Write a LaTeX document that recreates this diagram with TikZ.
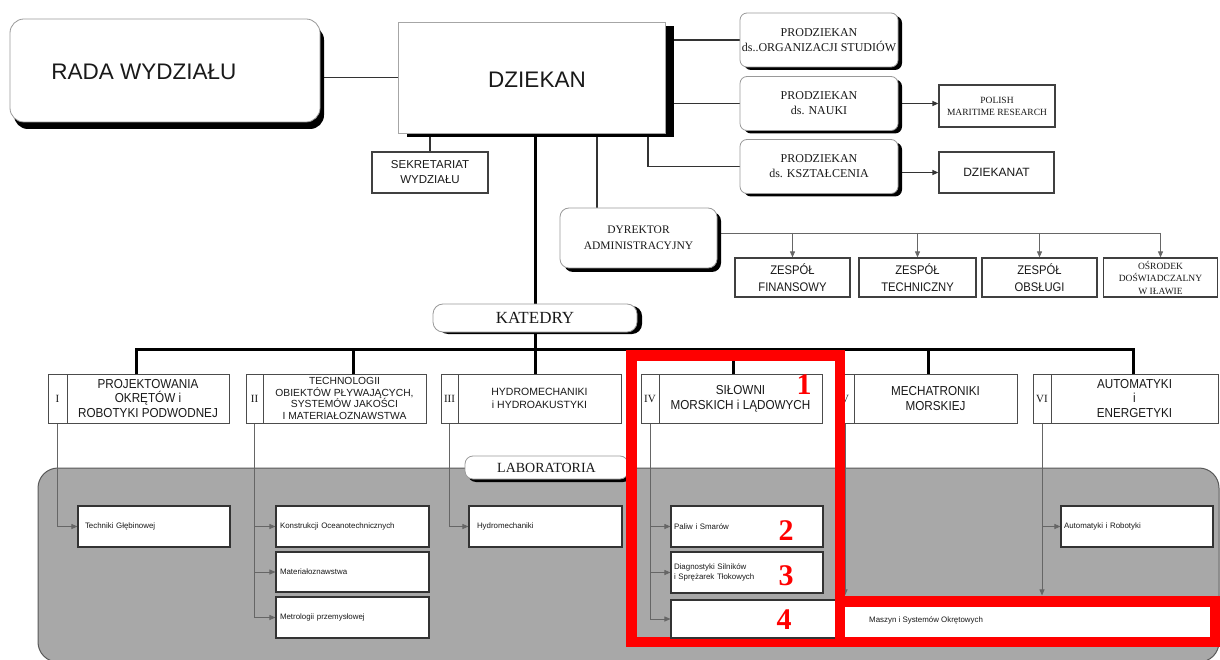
\documentclass[tikz,border=0pt]{standalone}
\usepackage{fontspec}
\setmainfont{Liberation Serif}
\setsansfont{Liberation Sans}
\newfontfamily\nsans[FakeStretch=0.9]{Liberation Sans}
\usetikzlibrary{arrows.meta,shadows}
\pgfdeclarelayer{panel}
\pgfdeclarelayer{bg}
\pgfsetlayers{panel,bg,main}
\definecolor{labgray}{RGB}{168,168,168}
\newcommand\fsz[2]{\fontsize{#1}{#2}\selectfont}
\begin{document}
\begin{tikzpicture}[x=1pt,y=-1pt,
 every node/.style={inner sep=0pt, text=black!90},
 shd/.style 2 args={drop shadow={shadow xshift=#1, shadow yshift=#2, fill=black, opacity=1}},
 rbox/.style={draw=black!40, line width=0.8, fill=white, rounded corners=7, align=center},
 sbox/.style={draw=black!75, line width=1.2, fill=white, align=center},
 kbox/.style={draw=black!70, line width=1, fill=white, align=center, minimum height=49},
 nbox/.style={draw=black!70, line width=1, fill=white, minimum height=49, font=\fsz{11}{13}},
 lbox/.style={draw=black!80, line width=1.1, fill=white, align=left, inner xsep=4pt, text width=144, minimum height=41, font=\sffamily\fsz{7.9}{9.8}},
 thk/.style={line width=3, black, line join=miter},
 ln/.style={line width=1.3, black!80},
 gln/.style={line width=0.9, black!60},
 arr/.style={-{Triangle[length=6pt,width=5pt]}},
 redbox/.style={draw=red, line width=10.5},
 rednum/.style={text=red, font=\bfseries\fsz{30}{30}}
]
\useasboundingbox (0,0) rectangle (1220,660);
\begin{pgfonlayer}{panel}
 \fill[white] (0,0) rectangle (1220,660);
 \draw[fill=labgray, draw=black!65, line width=1, rounded corners=20] (38,468) rectangle (1219,662);
\end{pgfonlayer}

% ---- top part
\node[rbox, rounded corners=14, shd={4pt}{-7pt}, minimum width=310, minimum height=103] (rada) at (165,70.5) {};
\node[font=\sffamily\fsz{22.5}{27}] (radat) at (144,72) {RADA WYDZIAŁU};
\node[draw=black!35, line width=0.8, fill=white, shd={9pt}{-4.5pt}, minimum width=267, minimum height=111] (dziekan) at (531.5,77.5) {};
\node[font=\sffamily\fsz{22.5}{27}] (dziekant) at (537,80) {DZIEKAN};

\node[rbox, shd={4pt}{-3pt}, minimum width=158, minimum height=54, font=\fsz{12}{15}] (pd1) at (819,40) {PRODZIEKAN\\ds..ORGANIZACJI STUDIÓW};
\node[rbox, shd={4pt}{-3pt}, minimum width=158, minimum height=54, font=\fsz{12}{15}] (pd2) at (819,103.5) {PRODZIEKAN\\ds. NAUKI};
\node[rbox, shd={4pt}{-3pt}, minimum width=158, minimum height=54, font=\fsz{12}{15}] (pd3) at (819,166.5) {PRODZIEKAN\\ds. KSZTAŁCENIA};

\node[sbox, minimum width=116, minimum height=42, font=\fsz{9.5}{12}] (pm) at (997,106) {POLISH\\MARITIME RESEARCH};
\node[sbox, minimum width=115, minimum height=41, font=\sffamily\fsz{12}{15}] (dzk) at (996.5,172.5) {DZIEKANAT};
\node[sbox, minimum width=116, minimum height=41, font=\sffamily\fsz{11.5}{15}] (sek) at (430,172.5) {SEKRETARIAT\\WYDZIAŁU};

\node[rbox, rounded corners=9, shd={4pt}{-4pt}, minimum width=157, minimum height=60, font=\fsz{11.5}{16}] (dyr) at (638.5,238) {DYREKTOR\\ADMINISTRACYJNY};

\node[sbox, minimum width=115, minimum height=39, font=\nsans\fsz{12.5}{17}] (z1) at (792.5,277.5) {ZESPÓŁ\\FINANSOWY};
\node[sbox, minimum width=117, minimum height=39, font=\nsans\fsz{12.5}{17}] (z2) at (917.5,277.5) {ZESPÓŁ\\TECHNICZNY};
\node[sbox, minimum width=115, minimum height=39, font=\nsans\fsz{12.5}{17}] (z3) at (1039.5,277.5) {ZESPÓŁ\\OBSŁUGI};
\node[sbox, minimum width=114, minimum height=39, font=\fsz{9.5}{12.5}] (z4) at (1160.5,277.5) {OŚRODEK\\DOŚWIADCZALNY\\W IŁAWIE};

\node[rbox, rounded corners=10, shd={5pt}{-2pt}, minimum width=204, minimum height=28, font=\fsz{17}{20}] (kat) at (535,318) {KATEDRY};

% ---- katedry
\node[nbox, minimum width=19] (k1n) at (57.5,398.5) {I};
\node[kbox, minimum width=162, font=\nsans\fsz{13}{14.5}] (k1) at (148,398.5) {PROJEKTOWANIA\\OKRĘTÓW i\\ROBOTYKI PODWODNEJ};
\node[nbox, minimum width=17] (k2n) at (254.5,398.5) {II};
\node[kbox, minimum width=163, font=\sffamily\fsz{10.3}{11.8}] (k2) at (344.5,398.5) {TECHNOLOGII\\OBIEKTÓW PŁYWAJĄCYCH,\\SYSTEMÓW JAKOŚCI\\I MATERIAŁOZNAWSTWA};
\node[nbox, minimum width=17] (k3n) at (449.5,398.5) {III};
\node[kbox, minimum width=163, font=\sffamily\fsz{10.5}{13}] (k3) at (539.5,398.5) {HYDROMECHANIKI\\i HYDROAKUSTYKI};
\node[nbox, minimum width=18] (k4n) at (650,398.5) {IV};
\node[kbox, minimum width=163, font=\nsans\fsz{13}{15}] (k4) at (740.5,398.5) {SIŁOWNI\\MORSKICH i LĄDOWYCH};
\node[nbox, minimum width=18] (k5n) at (845,398.5) {V};
\node[kbox, minimum width=163, font=\nsans\fsz{13}{14.5}] (k5) at (935.5,398.5) {MECHATRONIKI\\MORSKIEJ};
\node[nbox, minimum width=18] (k6n) at (1042,398.5) {VI};
\node[kbox, minimum width=167, font=\nsans\fsz{13}{14.5}] (k6) at (1134.5,398.5) {AUTOMATYKI\\i\\ENERGETYKI};

% ---- laboratoria
\node[rbox, rounded corners=8, shd={3pt}{-3pt}, minimum width=163, minimum height=23, font=\fsz{14}{16}] (labl) at (546.5,467.5) {LABORATORIA};

\node[lbox, inner xsep=7pt, text width=138] (lab1) at (154,526.5) {Techniki Głębinowej};
\node[lbox, minimum width=153, text width=145] (lab2a) at (352.5,526.5) {Konstrukcji Oceanotechnicznych};
\node[lbox, minimum width=153, text width=145, minimum height=40] (lab2b) at (352.5,572) {Materiałoznawstwa};
\node[lbox, minimum width=153, text width=145] (lab2c) at (352.5,617.5) {Metrologii przemysłowej};
\node[lbox, inner xsep=8pt, text width=137] (lab3) at (545.5,526.5) {Hydromechaniki};
\node[lbox, inner xsep=3pt, text width=146] (lab4a) at (747,526.5) {Paliw i Smarów};
\node[lbox, inner xsep=3pt, text width=146] (lab4b) at (747,572.5) {Diagnostyki Silników\\i Sprężarek Tłokowych};
\node[lbox, inner xsep=3pt, text width=146] (lab6) at (1137,526.5) {Automatyki i Robotyki};

% ---- red annotation and Maszyn box
\draw[redbox] (631.5,355.5) rectangle (840,642);
\node[draw=black!80, line width=1.1, fill=white, minimum width=543, minimum height=38] (maszyn) at (942.5,619) {};
\node[anchor=west, font=\sffamily\fsz{7.9}{9.8}] (maszynt) at (869,620) {Maszyn i Systemów Okrętowych};
\draw[redbox] (840,601.5) rectangle (1215,642);
\node[rednum] (n1) at (804,385) {1};
\node[rednum] (n2) at (786,531) {2};
\node[rednum] (n3) at (786,576) {3};
\node[rednum] (n4) at (784,620) {4};

% ---- connectors
\begin{pgfonlayer}{bg}
 \draw[ln] (rada.east |- dziekan.west) -- (dziekan.west);
 \draw[ln] (dziekan.east |- pd1.west) -- (pd1.west);
 \draw[ln] (dziekan.east |- pd2.west) -- (pd2.west);
 \coordinate (c3) at (648,133);
 \draw[ln] (c3) |- (pd3.west);
 \draw[ln,arr] (pd2.east) -- (pd2.east -| pm.west);
 \draw[ln,arr] (dzk.west -| pd3.east) -- (dzk.west);
 \draw[ln] (sek.north |- dziekan.south) -- (sek.north);
 \coordinate (c4) at (597,133);
 \draw[ln] (c4) -- (c4 |- dyr.north);
 \draw[thk] (kat.north |- dziekan.south) -- (kat.north);
 \coordinate (zb) at (720,233);
 \draw[gln] (zb) -- (zb -| z4.north);
 \foreach \z in {z1,z2,z3,z4} \draw[gln,arr] (zb -| \z.north) -- (\z.north);
 % katedry bus
 \coordinate (b1) at (136,349);
 \coordinate (b2) at (353,349);
 \coordinate (b3) at (535,349);
 \coordinate (b4) at (733,349);
 \coordinate (b5) at (928,349);
 \coordinate (b6) at (1133,349);
 \draw[thk] (b1 |- k1.north) -- (b1) -- (b6) -- (b6 |- k6.north);
 \draw[thk] (kat.south) -- (b3);
 \draw[thk] (b2) -- (b2 |- k2.north);
 \draw[thk] (b3) -- (b3 |- k3.north);
 \draw[thk] (b4) -- (b4 |- k4.north);
 \draw[thk] (b5) -- (b5 |- k5.north);
 % laboratoria links
 \draw[gln,arr] (k1n.south) |- (lab1.west);
 \draw[gln,arr] (k2n.south) |- (lab2a.west);
 \draw[gln,arr] (k2n.south) |- (lab2b.west);
 \draw[gln,arr] (k2n.south) |- (lab2c.west);
 \draw[gln,arr] (k3n.south) |- (lab3.west);
 \draw[gln,arr] (k4n.south) |- (lab4a.west);
 \draw[gln,arr] (k4n.south) |- (lab4b.west);
 \draw[gln,arr] (k4n.south) |- (maszyn.west);
 \draw[gln,arr] (k5n.south) -- ([yshift=4pt]k5n.south |- maszyn.north);
 \draw[gln,arr] (k6n.south) -- ([yshift=4pt]k6n.south |- maszyn.north);
 \draw[gln,arr] (k6n.south) |- (lab6.west);
\end{pgfonlayer}
\end{tikzpicture}
\end{document}
